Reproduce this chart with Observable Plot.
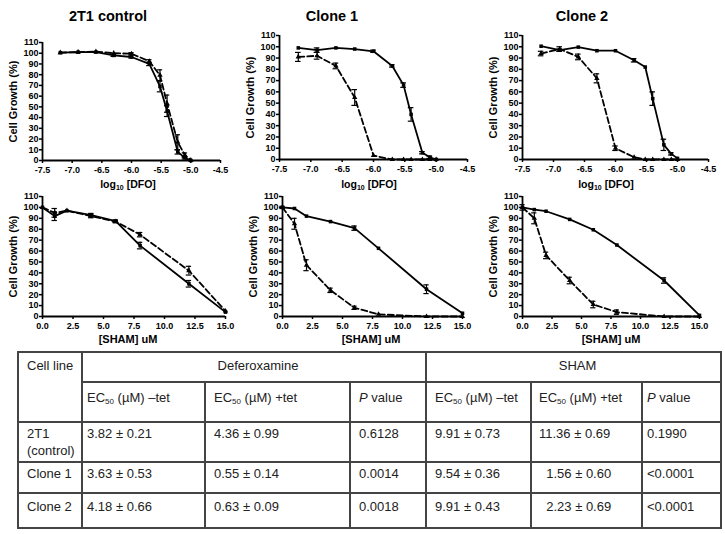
<!DOCTYPE html>
<html>
<head>
<meta charset="utf-8">
<script src="https://cdn.jsdelivr.net/npm/d3@7"></script>
<script src="https://cdn.jsdelivr.net/npm/@observablehq/plot@0.6"></script>
<style>
  html, body { margin: 0; padding: 0; background: #fff; }
  #root { position: relative; width: 725px; height: 534px; overflow: hidden; background: #fff;
          font-family: "Liberation Sans", Arial, sans-serif; color: #000; }
  .ttl { position: absolute; width: 200px; text-align: center; font-weight: bold; white-space: nowrap; line-height: 1; }
  .ttl sub { font-size: 7px; vertical-align: -2px; line-height: 0; }
  #tbl { position: absolute; left: 17px; top: 351px; width: 703px; border-collapse: collapse; table-layout: fixed;
         font-size: 13px; line-height: 17px; color: #222; }
  #tbl td { border: 2px solid #444; vertical-align: top; padding: 2px 0 0 7px; white-space: nowrap; overflow: hidden; }
  #tbl td.c { text-align: center; padding-left: 8px; }
  #tbl sub { font-size: 8px; vertical-align: -2px; line-height: 0; }
</style>
</head>
<body>
<div id="root"></div>
<script>
// ---------------- data ----------------
const panelTitles = ["2T1 control", "Clone 1", "Clone 2"];
const yTicks = [0, 10, 20, 30, 40, 50, 60, 70, 80, 90, 100, 110];
const dfoTicks = [-7.5, -7.0, -6.5, -6.0, -5.5, -5.0, -4.5];
const shamTicks = [0, 2.5, 5, 7.5, 10, 12.5, 15];

// log10 [DFO]
const dfoX = [-7.2, -6.9, -6.6, -6.3, -6.0, -5.7, -5.52, -5.4, -5.22, -5.1, -5.0];
const dfoCtrlMinus    = [100.5, 101, 101, 98, 96.5, 90, 69, 46, 8, 2.5, 0];
const dfoCtrlMinusErr = [0.5, 0.5, 0.5, 1, 1, 1.5, 5, 5, 2, 1, 0];
const dfoCtrlPlus     = [100.5, 101, 101.5, 100, 99.5, 92.5, 79.5, 53, 17, 5, 0.4];
const dfoCtrlPlusErr  = [0.5, 0.5, 0.5, 0.5, 1, 1.5, 5, 8, 7, 2, 0.4];
const dfoC1Minus      = [99, 97, 99, 98, 96, 83, 66, 40, 6, 2, 0];
const dfoC1MinusErr   = [0.5, 2, 0.5, 0.5, 1, 1, 2, 6, 1, 1, 0];
const dfoC1Plus       = [91, 92, 83, 55, 3.5, 0, 0, 0, 0, 0, 0];
const dfoC1PlusErr    = [4, 3, 2.5, 7, 0.5, 0, 0, 0, 0, 0, 0];
const dfoC2Minus      = [100.5, 97, 99.7, 96.5, 96.5, 88, 82, 54, 13, 5, 1];
const dfoC2MinusErr   = [0.5, 1, 0.5, 0.5, 0.5, 1.5, 0.5, 6, 5, 1, 0.5];
const dfoC2Plus       = [94, 98, 91, 72, 10, 2, 0, 0, 0, 0, 0];
const dfoC2PlusErr    = [2, 2, 2.5, 4, 2, 0.5, 0, 0, 0, 0, 0];

// [SHAM] uM
const shamX = [0, 1, 2, 4, 6, 8, 12, 15];
const shamCtrlMinus    = [100, 92, 97, 93, 87.5, 65, 30, 4];
const shamCtrlMinusErr = [0.5, 4, 0.5, 1.5, 1, 3, 3, 0.5];
const shamCtrlPlus     = [100, 95, 97, 92, 87, 75, 42, 5];
const shamCtrlPlusErr  = [0.5, 4, 0.5, 1.5, 1, 2, 4, 0.5];
const shamC1Minus      = [100, 99, 92, 87, 81, 62.5, 25, 3];
const shamC1MinusErr   = [0.5, 0.5, 0.5, 0.5, 2, 0.5, 4, 0.5];
const shamC1Plus       = [100, 85, 47, 24, 8, 2, 0, 0];
const shamC1PlusErr    = [1, 5, 5, 2, 1.5, 0.5, 0, 0];
const shamC2Minus      = [100, 98, 96.5, 89, 79.5, 65.5, 33, 1];
const shamC2MinusErr   = [0.5, 0.5, 0.5, 0.5, 0.5, 0.5, 2.5, 0.5];
const shamC2Plus       = [100, 90, 56, 33, 11, 4, 0, 0];
const shamC2PlusErr    = [2.5, 5, 3, 3, 3, 2, 0, 0];

// table
const tableCellLines   = ["2T1<br>(control)", "Clone 1", "Clone 2"];
const dfoEC50Minus     = ["3.82 ± 0.21", "3.63 ± 0.53", "4.18 ± 0.66"];
const dfoEC50Plus      = ["4.36 ± 0.99", "0.55 ± 0.14", "0.63 ± 0.09"];
const dfoPValue        = ["0.6128", "0.0014", "0.0018"];
const shamEC50Minus    = ["9.91 ± 0.73", "9.54 ± 0.36", "9.91 ± 0.43"];
const shamEC50Plus     = ["11.36 ± 0.69", "\u20071.56 ± 0.60", "\u20072.23 ± 0.69"];
const shamPValue       = ["0.1990", "&lt;0.0001", "&lt;0.0001"];

// ---------------- drawing ----------------
const root = document.getElementById("root");
const FONT = "'Liberation Sans', Arial, sans-serif";

function panel(cfg) {
  const {x0, x1, y0, y1, xDomain, xTicks, xs, minus, minusErr, plus, plusErr, cap} = cfg;
  const mL = 42, mR = 15, mT = 8, mB = 22;
  const rows = (ys, es) => xs.map((x, i) => ({x, y: ys[i], e: es[i]}));
  const A = rows(minus, minusErr), B = rows(plus, plusErr);
  const errs = [...A, ...B].filter(d => d.e > 0.6);
  const svg = Plot.plot({
    width: x1 - x0 + mL + mR,
    height: y1 - y0 + mT + mB,
    marginLeft: mL, marginRight: mR, marginTop: mT, marginBottom: mB,
    x: {domain: xDomain},
    y: {domain: [0, 110]},
    style: {fontFamily: FONT, fontSize: "9px", fontWeight: "bold", color: "#000", background: "transparent", overflow: "visible"},
    marks: [
      Plot.axisY({ticks: yTicks, tickSize: 3, tickPadding: 1, label: null, strokeWidth: 1.5}),
      Plot.axisX({ticks: xTicks, tickSize: 3, tickPadding: 3, label: null, strokeWidth: 1.5, tickFormat: d => d.toFixed(1)}),
      Plot.ruleX([xDomain[0]], {stroke: "#000", strokeWidth: 1.8}),
      Plot.ruleY([0], {stroke: "#000", strokeWidth: 1.8}),
      Plot.ruleX(errs, {x: "x", y1: d => d.y - d.e, y2: d => d.y + d.e, stroke: "#000", strokeWidth: 1.2}),
      Plot.ruleY(errs, {y: d => d.y + d.e, x1: d => d.x - cap, x2: d => d.x + cap, stroke: "#000", strokeWidth: 1.2}),
      Plot.ruleY(errs, {y: d => d.y - d.e, x1: d => d.x - cap, x2: d => d.x + cap, stroke: "#000", strokeWidth: 1.2}),
      Plot.line(A, {x: "x", y: "y", stroke: "#000", strokeWidth: 1.8}),
      Plot.line(B, {x: "x", y: "y", stroke: "#000", strokeWidth: 1.8, strokeDasharray: "6,3"}),
      Plot.dot(A, {x: "x", y: "y", symbol: "square", r: 2, fill: "#000", stroke: "none"}),
      Plot.dot(B, {x: "x", y: "y", symbol: "triangle", r: 2, fill: "#000", stroke: "none"}),
      Plot.text(["Cell Growth (%)"], {frameAnchor: "left", dx: -29, rotate: -90, text: d => d, fontSize: 11, fontWeight: "bold", textAnchor: "middle", fill: "#000"})
    ]
  });
  svg.style.position = "absolute";
  svg.style.left = (x0 - mL) + "px";
  svg.style.top = (y0 - mT) + "px";
  root.appendChild(svg);
}

function label(html, cx, baseline, size) {
  const d = document.createElement("div");
  d.className = "ttl";
  d.innerHTML = html;
  d.style.fontSize = size + "px";
  d.style.left = (cx - 100) + "px";
  d.style.top = (baseline - 0.8465 * size) + "px";
  root.appendChild(d);
}

// top row: DFO
panel({x0: 42, x1: 220, y0: 42, y1: 160, xDomain: [-7.5, -4.5], xTicks: dfoTicks, xs: dfoX,
  minus: dfoCtrlMinus, minusErr: dfoCtrlMinusErr, plus: dfoCtrlPlus, plusErr: dfoCtrlPlusErr, cap: 0.045});
panel({x0: 279, x1: 467, y0: 35, y1: 159, xDomain: [-7.5, -4.5], xTicks: dfoTicks, xs: dfoX,
  minus: dfoC1Minus, minusErr: dfoC1MinusErr, plus: dfoC1Plus, plusErr: dfoC1PlusErr, cap: 0.045});
panel({x0: 522, x1: 708, y0: 35, y1: 159, xDomain: [-7.5, -4.5], xTicks: dfoTicks, xs: dfoX,
  minus: dfoC2Minus, minusErr: dfoC2MinusErr, plus: dfoC2Plus, plusErr: dfoC2PlusErr, cap: 0.045});
// bottom row: SHAM
panel({x0: 42, x1: 225, y0: 196, y1: 316, xDomain: [0, 15], xTicks: shamTicks, xs: shamX,
  minus: shamCtrlMinus, minusErr: shamCtrlMinusErr, plus: shamCtrlPlus, plusErr: shamCtrlPlusErr, cap: 0.22});
panel({x0: 282, x1: 462, y0: 196, y1: 316, xDomain: [0, 15], xTicks: shamTicks, xs: shamX,
  minus: shamC1Minus, minusErr: shamC1MinusErr, plus: shamC1Plus, plusErr: shamC1PlusErr, cap: 0.22});
panel({x0: 522, x1: 699, y0: 196, y1: 316, xDomain: [0, 15], xTicks: shamTicks, xs: shamX,
  minus: shamC2Minus, minusErr: shamC2MinusErr, plus: shamC2Plus, plusErr: shamC2PlusErr, cap: 0.22});

// titles and axis titles
label(panelTitles[0], 108, 21, 14.5);
label(panelTitles[1], 332, 21, 14.5);
label(panelTitles[2], 582, 21, 14.5);
[128, 369, 606].forEach(cx => label("log<sub>10</sub> [DFO]", cx, 188, 10.5));
[128, 371, 611].forEach(cx => label("[SHAM] uM", cx, 343, 11));

// table
const colWidths = [64, 123, 145, 76, 105, 111, 79];
const padLeft = [8, 4, 8, 8, 8, 7, 4];
const rowHeights = [30, 40, 40, 31, 35];
const rowPadTop = [4, 6, 2, 2, 4];
const subHeads = ["EC<sub>50</sub> (µM) –tet", "EC<sub>50</sub> (µM) +tet", "<i>P</i> value",
                  "EC<sub>50</sub> (µM) –tet", "EC<sub>50</sub> (µM) +tet", "<i>P</i> value"];
let html = "<colgroup>" + colWidths.map(w => `<col style="width:${w}px">`).join("") + "</colgroup>";
html += `<tr style="height:${rowHeights[0]}px"><td rowspan="2" style="padding-top:${rowPadTop[0]}px;padding-left:${padLeft[0]}px">Cell line</td>` +
        `<td colspan="3" class="c" style="padding-top:${rowPadTop[0]}px">Deferoxamine</td>` +
        `<td colspan="3" class="c" style="padding-top:${rowPadTop[0]}px">SHAM</td></tr>`;
html += `<tr style="height:${rowHeights[1]}px">` + subHeads.map((s, j) =>
        `<td style="padding-top:${rowPadTop[1]}px;padding-left:${padLeft[j + 1]}px">${s}</td>`).join("") + "</tr>";
tableCellLines.forEach((cl, i) => {
  const cells = [cl, dfoEC50Minus[i], dfoEC50Plus[i], dfoPValue[i], shamEC50Minus[i], shamEC50Plus[i], shamPValue[i]];
  html += `<tr style="height:${rowHeights[i + 2]}px">` + cells.map((c, j) =>
          `<td style="padding-top:${rowPadTop[i + 2]}px;padding-left:${padLeft[j]}px">${c}</td>`).join("") + "</tr>";
});
const tbl = document.createElement("table");
tbl.id = "tbl";
tbl.innerHTML = html;
root.appendChild(tbl);
</script>
</body>
</html>
